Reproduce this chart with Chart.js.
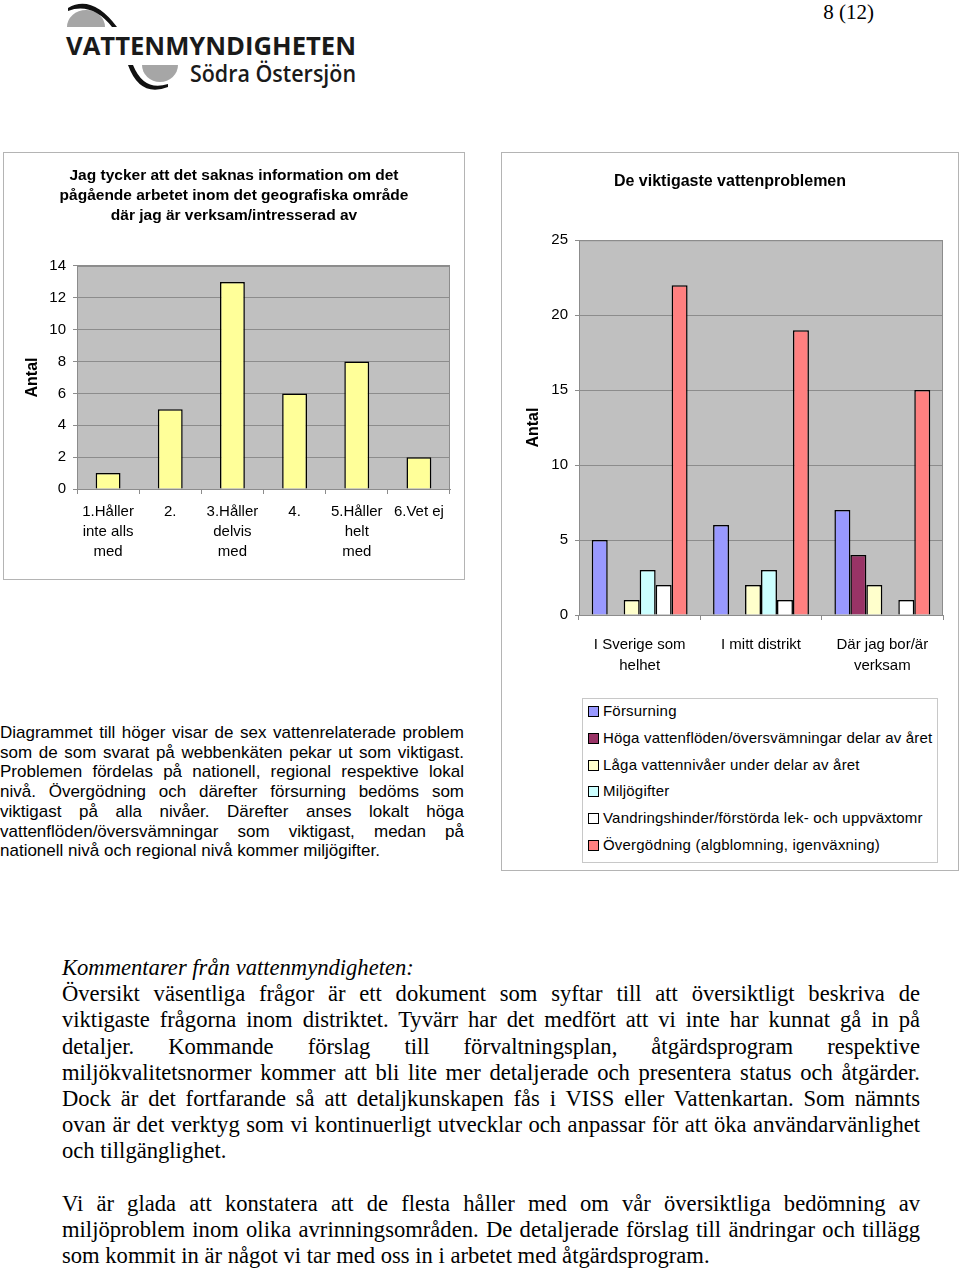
<!DOCTYPE html>
<html lang="sv">
<head>
<meta charset="utf-8">
<title>Vattenmyndigheten – 8 (12)</title>
<script src="https://cdn.jsdelivr.net/npm/chart.js@4.4.1/dist/chart.umd.min.js"></script>
<style>
  body { margin: 0; background: #fff; }
  #page { position: relative; width: 960px; height: 1269px; overflow: hidden; font-family: "Liberation Sans", Arial, sans-serif; color: #000; }
  .abs { position: absolute; }
  .box { position: absolute; border: 1px solid #b4b4b4; box-sizing: border-box; }
  #pageno { left: 780px; top: 0px; width: 94px; text-align: right; font: 21px "Liberation Serif", "Times New Roman", serif; }
  #para { left: 0px; top: 723px; width: 464px; font-size: 17px; line-height: 19.7px; }
  #para div, .serif div { text-align: justify; text-align-last: justify; white-space: nowrap; }
  #para div.last, .serif div.last { text-align-last: left; }
  .serif { left: 62px; width: 858px; font: 22.6px/26.2px "Liberation Serif", "Times New Roman", serif; }
  #legend { left: 582px; top: 698px; width: 356px; height: 165px; border: 1px solid #c8c8c8; box-sizing: border-box; font-size: 15px; letter-spacing: 0.2px; padding-top: 1px; }
  #legend .item { height: 26.8px; line-height: 22px; white-space: nowrap; padding-left: 5px; }
  #legend .sw { display: inline-block; width: 9px; height: 9px; border: 1px solid #000; margin-right: 4px; vertical-align: -1px; }
</style>
</head>
<body>
<div id="page">

  <svg class="abs" style="left:0;top:0" width="400" height="100">
    <path d="M67,27 A19,17 0 0 1 105,27 Z" fill="#a6a6a6"/>
    <path d="M68,8 Q92,-6 117,27 L112,27 Q92,2 68,11 Z" fill="#111"/>
    <path d="M142,65 A18,17 0 0 0 178,65 Z" fill="#a6a6a6"/>
    <path d="M128,65 Q140,98 168,87 L168,84 Q144,92 133,65 Z" fill="#111"/>
    <text x="66" y="55" font-family="Open Sans, DejaVu Sans, sans-serif" font-weight="700" font-size="25" textLength="290" lengthAdjust="spacingAndGlyphs" fill="#1a1a1a">VATTENMYNDIGHETEN</text>
    <text x="190" y="82" font-family="Open Sans, DejaVu Sans, sans-serif" font-weight="600" font-size="24" textLength="166" lengthAdjust="spacingAndGlyphs" fill="#1a1a1a">Södra Östersjön</text>
  </svg>

  <div id="pageno" class="abs">8 (12)</div>

  <div class="box" style="left:3px;top:152px;width:462px;height:428px;"></div>
  <div class="abs" style="left:4px;top:153px;width:460px;height:426px;"><canvas id="chartAgree"></canvas></div>

  <div class="box" style="left:501px;top:152px;width:458px;height:719px;"></div>
  <div class="abs" style="left:502px;top:153px;width:456px;height:537px;"><canvas id="chartProblems"></canvas></div>
  <div id="legend" class="abs"></div>

  <div id="para" class="abs">
    <div>Diagrammet till höger visar de sex vattenrelaterade problem</div>
    <div>som de som svarat på webbenkäten pekar ut som viktigast.</div>
    <div>Problemen fördelas på nationell, regional respektive lokal</div>
    <div>nivå. Övergödning och därefter försurning bedöms som</div>
    <div>viktigast på alla nivåer. Därefter anses lokalt höga</div>
    <div>vattenflöden/översvämningar som viktigast, medan på</div>
    <div class="last">nationell nivå och regional nivå kommer miljögifter.</div>
  </div>

  <div class="abs serif" style="top:955px;">
    <div class="last"><i>Kommentarer från vattenmyndigheten:</i></div>
    <div>Översikt väsentliga frågor är ett dokument som syftar till att översiktligt beskriva de</div>
    <div>viktigaste frågorna inom distriktet. Tyvärr har det medfört att vi inte har kunnat gå in på</div>
    <div>detaljer. Kommande förslag till förvaltningsplan, åtgärdsprogram respektive</div>
    <div>miljökvalitetsnormer kommer att bli lite mer detaljerade och presentera status och åtgärder.</div>
    <div>Dock är det fortfarande så att detaljkunskapen fås i VISS eller Vattenkartan. Som nämnts</div>
    <div>ovan är det verktyg som vi kontinuerligt utvecklar och anpassar för att öka användarvänlighet</div>
    <div class="last">och tillgänglighet.</div>
  </div>

  <div class="abs serif" style="top:1191px;">
    <div>Vi är glada att konstatera att de flesta håller med om vår översiktliga bedömning av</div>
    <div>miljöproblem inom olika avrinningsområden. De detaljerade förslag till ändringar och tillägg</div>
    <div class="last">som kommit in är något vi tar med oss in i arbetet med åtgärdsprogram.</div>
  </div>
</div>

<script>
// left chart: agreement answers
const agreeTitle = ['Jag tycker att det saknas information om det', 'pågående arbetet inom det geografiska område', 'där jag är verksam/intresserad av'];
const agreeLabels = [['1.Håller', 'inte alls', 'med'], '2.', ['3.Håller', 'delvis', 'med'], '4.', ['5.Håller', 'helt', 'med'], '6.Vet ej'];
const agreeValues = [1, 5, 13, 6, 8, 2];
const agreeTicks = { max: 14, step: 2 };

// right chart: water problems
const problemsTitle = 'De viktigaste vattenproblemen';
const problemsLabels = [['I Sverige som', 'helhet'], 'I mitt distrikt', ['Där jag bor/är', 'verksam']];
const seriesNames = [
  'Försurning',
  'Höga vattenflöden/översvämningar delar av året',
  'Låga vattennivåer under delar av året',
  'Miljögifter',
  'Vandringshinder/förstörda lek- och uppväxtomr',
  'Övergödning (algblomning, igenväxning)'
];
const forsurning = [5, 6, 7];
const hogaFloden = [0, 0, 4];
const lagaNivaer = [1, 2, 2];
const miljogifter = [3, 3, 0];
const vandringshinder = [2, 1, 1];
const overgodning = [22, 19, 15];
const seriesColors = ['#9999ff', '#993366', '#ffffcc', '#ccffff', '#ffffff', '#ff8080'];
const problemsTicks = { max: 25, step: 5 };

Chart.defaults.font.family = '"Liberation Sans", Arial, sans-serif';
Chart.defaults.color = '#000';

const plotBg = {
  id: 'plotBg',
  beforeDraw(chart) {
    const { ctx, chartArea } = chart;
    ctx.save();
    ctx.fillStyle = '#c0c0c0';
    ctx.fillRect(chartArea.left, chartArea.top, chartArea.width, chartArea.height);
    ctx.strokeStyle = '#8c8c8c';
    ctx.lineWidth = 1;
    ctx.strokeRect(chartArea.left + 0.5, chartArea.top + 0.5, chartArea.width - 1, chartArea.height);
    ctx.restore();
  }
};

function axes(tickCfg, yWidth, yTitlePad, xHeight, xPad, xLineHeight) {
  return {
    x: {
      grid: { display: true, drawOnChartArea: false, color: '#8c8c8c', tickLength: 5, offset: true },
      border: { color: '#8c8c8c' },
      ticks: { font: { size: 15, lineHeight: xLineHeight }, padding: xPad, maxRotation: 0, autoSkip: false },
      afterFit: s => { s.height = xHeight; }
    },
    y: {
      min: 0,
      max: tickCfg.max,
      grid: { color: '#8c8c8c', tickLength: 4 },
      border: { color: '#8c8c8c' },
      ticks: { stepSize: tickCfg.step, font: { size: 15 }, padding: 7 },
      title: { display: true, text: 'Antal', font: { size: 16, weight: 'bold' }, padding: { top: yTitlePad, bottom: 0 } },
      afterFit: s => { s.width = yWidth; }
    }
  };
}

new Chart(document.getElementById('chartAgree'), {
  type: 'bar',
  data: {
    labels: agreeLabels,
    datasets: [{
      data: agreeValues,
      backgroundColor: '#ffff99',
      borderColor: '#000',
      borderWidth: 1.5,
      barPercentage: 0.4,
      categoryPercentage: 1
    }]
  },
  options: {
    responsive: true,
    maintainAspectRatio: false,
    animation: false,
    layout: { padding: { left: 14, right: 14, top: 0, bottom: 0 } },
    plugins: {
      legend: { display: false },
      tooltip: { enabled: false },
      title: { display: true, text: agreeTitle, font: { size: 15.5, weight: 'bold', lineHeight: 1.29 }, padding: { top: 13, bottom: 40 } }
    },
    scales: axes(agreeTicks, 59, 5, 90, 8, 1.33)
  },
  plugins: [plotBg]
});

const problemsData = [forsurning, hogaFloden, lagaNivaer, miljogifter, vandringshinder, overgodning];

new Chart(document.getElementById('chartProblems'), {
  type: 'bar',
  data: {
    labels: problemsLabels,
    datasets: problemsData.map((vals, i) => ({
      label: seriesNames[i],
      data: vals,
      backgroundColor: seriesColors[i],
      borderColor: '#000',
      borderWidth: 1.5,
      barPercentage: 1,
      categoryPercentage: 0.79
    }))
  },
  options: {
    responsive: true,
    maintainAspectRatio: false,
    animation: false,
    layout: { padding: { left: 15, right: 15, top: 0, bottom: 0 } },
    plugins: {
      legend: { display: false },
      tooltip: { enabled: false },
      title: { display: true, text: problemsTitle, font: { size: 16, weight: 'bold' }, padding: { top: 19, bottom: 49 } }
    },
    scales: axes(problemsTicks, 62, 7, 75, 14, 1.4)
  },
  plugins: [plotBg]
});

// legend box built from the same series arrays
const legendBox = document.getElementById('legend');
seriesNames.forEach((name, i) => {
  const row = document.createElement('div');
  row.className = 'item';
  row.innerHTML = '<span class="sw" style="background:' + seriesColors[i] + '"></span>' + name;
  legendBox.appendChild(row);
});
</script>
</body>
</html>
